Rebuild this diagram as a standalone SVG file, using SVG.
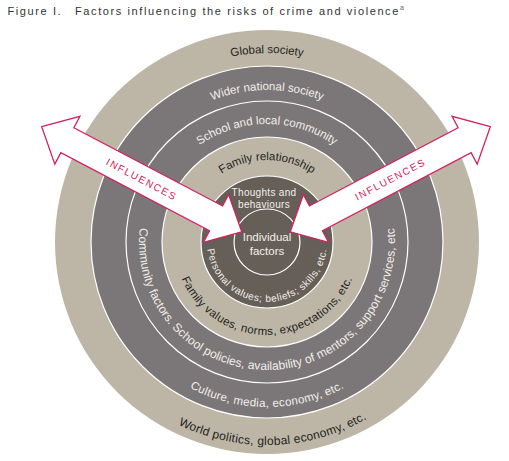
<svg xmlns="http://www.w3.org/2000/svg" width="509" height="461" viewBox="0 0 509 461">
<style>
text{font-family:"Liberation Sans",Arial,sans-serif}
.beige{fill:#bdb6a7}
.gray{fill:#7b7778}
.dark{fill:#665f58}
.ring{stroke:#ffffff;stroke-width:1.2}
.lbl{font-size:11.5px;text-anchor:middle}
.lt{fill:#f2efea}
.dk{fill:#231f20}
.arrow{fill:#ffffff;stroke:#d3215d;stroke-width:1.3;stroke-linejoin:miter}
.infl{font-size:10px;letter-spacing:1.5px;fill:#d3215d;text-anchor:middle}
</style>
<defs>
<path id="p-global" d="M78,242 A189,189 0 0 1 456,242"/>
<path id="p-wider" d="M115,242 A152,152 0 0 1 419,242"/>
<path id="p-school" d="M149,242 A118,118 0 0 1 385,242"/>
<path id="p-family" d="M185,242 A82,82 0 0 1 349,242"/>
<path id="p-personal" d="M237,190.04 A60,60 0 1 0 297,190.04"/>
<path id="p-famval" d="M220.5,161.46 A93,93 0 1 0 313.5,161.46"/>
<path id="p-community" d="M203,131.15 A128,128 0 1 0 331,131.15"/>
<path id="p-culture" d="M184.5,99.11 A165,165 0 1 0 349.5,99.11"/>
<path id="p-world" d="M165.5,66.2 A203,203 0 1 0 368.5,66.2"/>
</defs>

<g id="title">
<text x="7.5" y="15" font-size="11" letter-spacing="1.6" fill="#333333">Figure I.</text>
<text x="75" y="15" font-size="11" letter-spacing="1.6" fill="#333333">Factors influencing the risks of crime and violence</text>
<text x="400" y="10" font-size="7" fill="#666666">a</text>
</g>

<g id="global-society">
<circle class="beige" cx="267" cy="242" r="212"/>
<text class="lbl dk"><textPath href="#p-global" startOffset="50%">Global society</textPath></text>
<text class="lbl dk" style="font-size:12px" letter-spacing="0.25"><textPath href="#p-world" startOffset="50.6%">World politics, global economy, etc.</textPath></text>
</g>

<g id="wider-national-society">
<circle class="gray ring" cx="267" cy="242" r="176"/>
<text class="lbl lt"><textPath href="#p-wider" startOffset="50%">Wider national society</textPath></text>
<text class="lbl lt" letter-spacing="0.3"><textPath href="#p-culture" startOffset="50%">Culture, media, economy, etc.</textPath></text>
</g>

<g id="school-local-community">
<circle class="gray ring" cx="267" cy="242" r="141"/>
<text class="lbl lt"><textPath href="#p-school" startOffset="50%">School and local community</textPath></text>
<text class="lbl lt" style="font-size:12px" letter-spacing="0.05"><textPath href="#p-community" startOffset="50%">Community factors. School policies, availability of mentors, support services, etc</textPath></text>
</g>

<g id="family-relationship">
<circle class="beige ring" cx="267" cy="242" r="105"/>
<text class="lbl dk"><textPath href="#p-family" startOffset="50%">Family relationship</textPath></text>
<text class="lbl dk" letter-spacing="0.3"><textPath href="#p-famval" startOffset="50%">Family values, norms, expectations, etc.</textPath></text>
</g>

<g id="thoughts-behaviours">
<circle class="dark ring" cx="267" cy="242" r="66"/>
<text class="lt" x="264" y="196" font-size="10" letter-spacing="0.3" text-anchor="middle">Thoughts and</text>
<text class="lt" x="264" y="208" font-size="10" letter-spacing="0.3" text-anchor="middle">behaviours</text>
<text class="lt" style="font-size:10px;text-anchor:middle" letter-spacing="0.5"><textPath href="#p-personal" startOffset="50%">Personal values; beliefs; skills, etc.</textPath></text>
</g>

<g id="individual-factors">
<circle class="dark ring" cx="267" cy="242" r="33"/>
<text class="lt" x="267" y="241" font-size="11.5" text-anchor="middle">Individual</text>
<text class="lt" x="267" y="255" font-size="11.5" text-anchor="middle">factors</text>
</g>

<g id="connectors">
<g transform="translate(41.7,126.7) rotate(27.73)">
<polygon class="arrow" points="0,0 29,-27 29,-14 197,-14 197,-27 226,0 197,27 197,14 29,14 29,27"/>
<text class="infl" x="113" y="3.6">INFLUENCES</text>
</g>
<g transform="translate(490.3,126.7) rotate(-27.73)">
<polygon class="arrow" points="0,0 -29,-27 -29,-14 -197,-14 -197,-27 -226,0 -197,27 -197,14 -29,14 -29,27"/>
<text class="infl" x="-113" y="3.6">INFLUENCES</text>
</g>
</g>
</svg>
